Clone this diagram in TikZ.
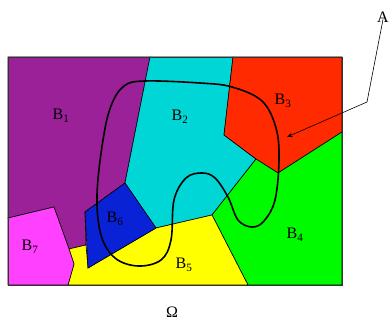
\documentclass[tikz,border=0pt]{standalone}
\usepackage{fontspec}
\setmainfont{Liberation Serif}
\usetikzlibrary{arrows.meta}

\definecolor{bpurple}{RGB}{155,33,152}
\definecolor{bcyan}{RGB}{0,214,214}
\definecolor{bred}{RGB}{255,42,0}
\definecolor{bgreen}{RGB}{0,250,0}
\definecolor{byellow}{RGB}{255,255,0}
\definecolor{bblue}{RGB}{10,34,214}
\definecolor{bmagenta}{RGB}{255,64,255}

\begin{document}
\begin{tikzpicture}[x=1pt, y=-1pt, >=Stealth,
    region/.style={draw=black, line width=0.6pt},
    lbl/.style={font=\fontsize{16}{18}\selectfont, inner sep=0pt}]
    \useasboundingbox (0,0) rectangle (389,320);

    % The seven pieces of the partition
    \fill[bpurple, region] (8,57) -- (150,57) -- (125,183) -- (85,212) -- (86,245)
        -- (69,249) -- (54,207) -- (8,218) -- cycle;
    \fill[bcyan, region] (150,57) -- (233,57) -- (224,135) -- (256,159) -- (212,215)
        -- (156,228) -- (125,183) -- cycle;
    \fill[bred, region] (233,57) -- (342,57) -- (342,132) -- (278,173) -- (256,159)
        -- (224,135) -- cycle;
    \fill[bgreen, region] (256,159) -- (278,173) -- (342,132) -- (342,285) -- (248,285)
        -- (212,215) -- cycle;
    \fill[byellow, region] (68,285) -- (74,264) -- (69,249) -- (86,245) -- (88,268)
        -- (156,228) -- (212,215) -- (248,285) -- cycle;
    \fill[bblue, region] (125,183) -- (85,212) -- (88,268) -- (156,228) -- cycle;
    \fill[bmagenta, region] (8,218) -- (54,207) -- (69,249) -- (74,264) -- (68,285)
        -- (8,285) -- cycle;

    % Outer frame
    \draw[black!80, line width=0.9pt] (8,57) rectangle (342,285);

    % The set A
    \draw[line width=1.6pt] plot[smooth cycle, tension=0.6] coordinates {
        (145,81) (200,83) (232,87) (262,101) (276,128) (279,160) (275,200)
        (264,221) (252,227) (238,220) (228,197) (215,178) (202,173) (186,178)
        (174,200) (171,240) (161,260) (138,266) (115,258) (101,235) (97,195)
        (103,140) (111,106) (124,86)};

    % Labels
    \node[lbl] (b1) at (61,116) {B\textsubscript{1}};
    \node[lbl] (b2) at (180,117) {B\textsubscript{2}};
    \node[lbl] (b3) at (283,101) {B\textsubscript{3}};
    \node[lbl] (b4) at (295,235) {B\textsubscript{4}};
    \node[lbl] (b5) at (184,265) {B\textsubscript{5}};
    \node[lbl] (b6) at (115,219) {B\textsubscript{6}};
    \node[lbl] (b7) at (30,247) {B\textsubscript{7}};
    \node[lbl] (omega) at (172,312) {Ω};
    \node[lbl] (setA) at (383,17) {A};

    % Pointer to the curve
    \coordinate (bend) at (367,102);
    \coordinate (tip) at (287,137);
    \draw[->, line width=0.6pt] (setA.south) ++(0,-3) -- (bend) -- (tip);

\end{tikzpicture}
\end{document}
